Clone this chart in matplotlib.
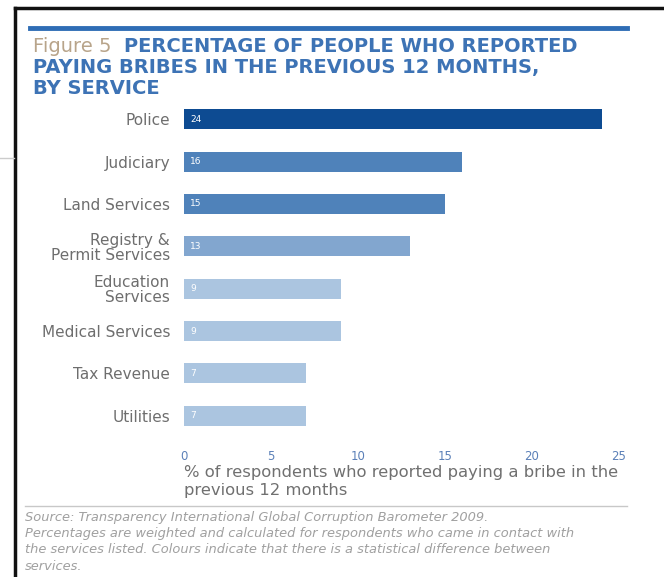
"""Figure 5: percentage of people who reported paying bribes, by service"""
import matplotlib.pyplot as plt
from matplotlib.lines import Line2D

services = ['Police', 'Judiciary', 'Land Services', 'Registry &\nPermit Services',
            'Education\nServices', 'Medical Services', 'Tax Revenue', 'Utilities']
percent = [24, 16, 15, 13, 9, 9, 7, 7]
bar_colors = ['#0d4b92', '#4f82ba', '#4f82ba', '#82a6cf',
              '#abc5e0', '#abc5e0', '#abc5e0', '#abc5e0']
x_ticks = [0, 5, 10, 15, 20, 25]

fig = plt.figure(figsize=(6.64, 5.77), dpi=100)
W, H = 664, 577


def fx(px):
    return px / W


def fy(py):
    return 1 - py / H


# frame and rules
fig.add_artist(Line2D([fx(15), fx(15)], [fy(8), 0], color='#111111', lw=2.5))
fig.add_artist(Line2D([fx(15), 1], [fy(8), fy(8)], color='#111111', lw=2.5))
fig.add_artist(Line2D([0, fx(14)], [fy(158), fy(158)], color='#cccccc', lw=1))
fig.add_artist(Line2D([fx(30), fx(627)], [fy(28), fy(28)], color='#2f6db5', lw=3.5))
fig.add_artist(Line2D([fx(25), fx(627)], [fy(506), fy(506)], color='#c8c8c8', lw=1))

# title
title_color = '#3d73b5'
fig.text(fx(33), fy(46), 'Figure 5', color='#b8a48a', fontsize=14, va='center')
fig.text(fx(124), fy(46), 'PERCENTAGE OF PEOPLE WHO REPORTED', color=title_color,
         fontsize=14, fontweight='bold', va='center')
fig.text(fx(33), fy(68), 'PAYING BRIBES IN THE PREVIOUS 12 MONTHS,', color=title_color,
         fontsize=14, fontweight='bold', va='center')
fig.text(fx(33), fy(89), 'BY SERVICE', color=title_color,
         fontsize=14, fontweight='bold', va='center')

ax = fig.add_axes([fx(184), fy(437), fx(619) - fx(184), fy(98) - fy(437)])
y_pos = list(range(len(services)))
ax.barh(y_pos, percent, height=0.47, color=bar_colors)
for y, v in zip(y_pos, percent):
    ax.text(0.35, y, str(v), color='white', fontsize=6.5, va='center', ha='left')

ax.set_ylim(len(services) - 0.5, -0.5)
ax.set_xlim(0, 25)
ax.set_yticks(y_pos)
ax.set_yticklabels(services, color='#6e6e6e', fontsize=11, linespacing=1.0)
ax.set_xticks(x_ticks)
ax.set_xticklabels([str(t) for t in x_ticks], color='#5b80b8', fontsize=8.5)
ax.tick_params(axis='both', length=0)
ax.tick_params(axis='y', pad=10)
ax.tick_params(axis='x', pad=9)
for s in ax.spines.values():
    s.set_visible(False)

fig.text(fx(184), fy(472), '% of respondents who reported paying a bribe in the',
         color='#707070', fontsize=11.8, va='center')
fig.text(fx(184), fy(490), 'previous 12 months', color='#707070', fontsize=11.8, va='center')

source = ('Source: Transparency International Global Corruption Barometer 2009.\n'
          'Percentages are weighted and calculated for respondents who came in contact with\n'
          'the services listed. Colours indicate that there is a statistical difference between\n'
          'services.')
fig.text(fx(25), fy(511), source, color='#a0a0a0', fontsize=9.4, style='italic',
         va='top', linespacing=1.32)

plt.savefig('out.png', dpi=100)
